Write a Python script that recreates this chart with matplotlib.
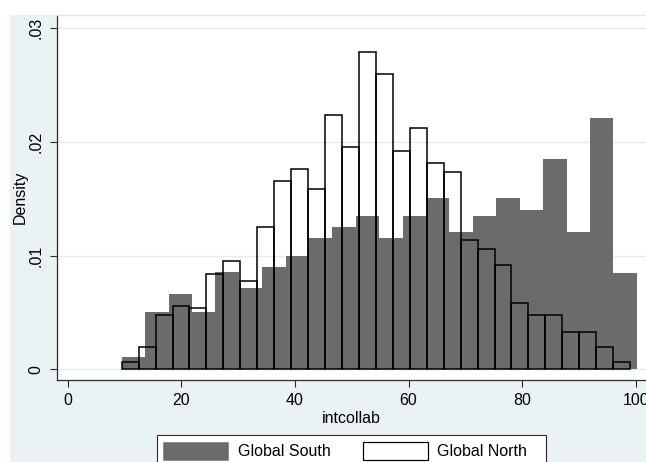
import numpy as np
import matplotlib.pyplot as plt
from matplotlib.patches import Patch, Rectangle

# histogram bins (intcollab)
south_start, south_width = 9.51, 4.121
north_start, north_width = 9.51, 2.983

south_density = [0.00106, 0.00507, 0.00660, 0.00507, 0.00853, 0.00713, 0.00903,
                 0.00999, 0.01158, 0.01255, 0.01352, 0.01158, 0.01352, 0.01505,
                 0.01211, 0.01352, 0.01505, 0.01402, 0.01850, 0.01211, 0.02208,
                 0.00850]
north_density = [0.00065, 0.00198, 0.00480, 0.00556, 0.00539, 0.00839, 0.00954,
                 0.00780, 0.01255, 0.01653, 0.01764, 0.01589, 0.02235, 0.01954,
                 0.02795, 0.02594, 0.01922, 0.02126, 0.01814, 0.01732, 0.01141,
                 0.01062, 0.00919, 0.00585, 0.00477, 0.00477, 0.00331, 0.00331,
                 0.00198, 0.00065]

xticks = [0, 20, 40, 60, 80, 100]
yticks = [0, 0.01, 0.02, 0.03]
ytick_labels = ["0", ".01", ".02", ".03"]
series_labels = ["Global South", "Global North"]

BG = "#eaf2f3"
GRID = "#e4ecee"
SOUTH = "#6b6b6b"
AXIS = "#2b2b2b"

plt.rcParams["font.family"] = ["Liberation Sans", "DejaVu Sans"]
plt.rcParams["font.size"] = 11.5

W, H = 646, 462
fig = plt.figure(figsize=(W / 100, H / 100), dpi=100)
fig.patch.set_facecolor("white")

# Stata-like graph region (light bluish gray)
fig.patches.append(Rectangle((10 / W, 0), (W - 10) / W, (H - 15) / H,
                             transform=fig.transFigure, facecolor=BG,
                             edgecolor="none", zorder=-2))

ax = fig.add_axes([57 / W, (H - 380) / H, (W - 57) / W, 365 / H])
ax.set_zorder(1)
ax.set_facecolor("white")

south_x = south_start + south_width * np.arange(len(south_density))
north_x = north_start + north_width * np.arange(len(north_density))

ax.bar(south_x, south_density, width=south_width, align="edge",
       color=SOUTH, edgecolor="none", linewidth=0, zorder=2)
ax.bar(north_x, north_density, width=north_width, align="edge",
       facecolor="none", edgecolor="black", linewidth=1.1, zorder=3)

ax.set_xlim(-1.88, 101.8)
ax.set_ylim(-0.00094, 0.03117)

ax.set_xticks(xticks)
ax.set_yticks(yticks)
ax.set_yticklabels(ytick_labels, rotation=90, va="center")
ax.yaxis.grid(True, color=GRID, linewidth=1.0, zorder=0)
ax.set_axisbelow(True)

ax.spines["right"].set_visible(False)
ax.spines["top"].set_color("#dfe7e9")
ax.spines["top"].set_linewidth(1.0)
for side in ["left", "bottom"]:
    ax.spines[side].set_color(AXIS)
    ax.spines[side].set_linewidth(0.9)
ax.tick_params(axis="both", direction="out", length=5, width=0.8,
               color=AXIS, pad=4.5, labelcolor="black")

ax.set_xlabel("intcollab", labelpad=2)
ax.set_ylabel("Density", labelpad=1)

# legend box (cut off at the bottom like the original)
fig.patches.append(Rectangle((156.7 / W, (H - 472) / H), 389.3 / W, 37 / H,
                             transform=fig.transFigure, facecolor="white",
                             edgecolor=AXIS, linewidth=0.8, zorder=3))
handles = [Patch(facecolor=SOUTH, edgecolor="#8a8a8a", linewidth=0.6),
           Patch(facecolor="white", edgecolor="black", linewidth=0.9)]
leg = fig.legend(handles, series_labels, loc="upper left", ncol=2,
                 bbox_to_anchor=(163.3 / W, (H - 441.7) / H),
                 bbox_transform=fig.transFigure, frameon=False,
                 borderpad=0, borderaxespad=0, handlelength=4.06,
                 handleheight=1.38, handletextpad=0.62, columnspacing=2.0)
leg.set_zorder(5)

fig.savefig("out.png", dpi=100)
